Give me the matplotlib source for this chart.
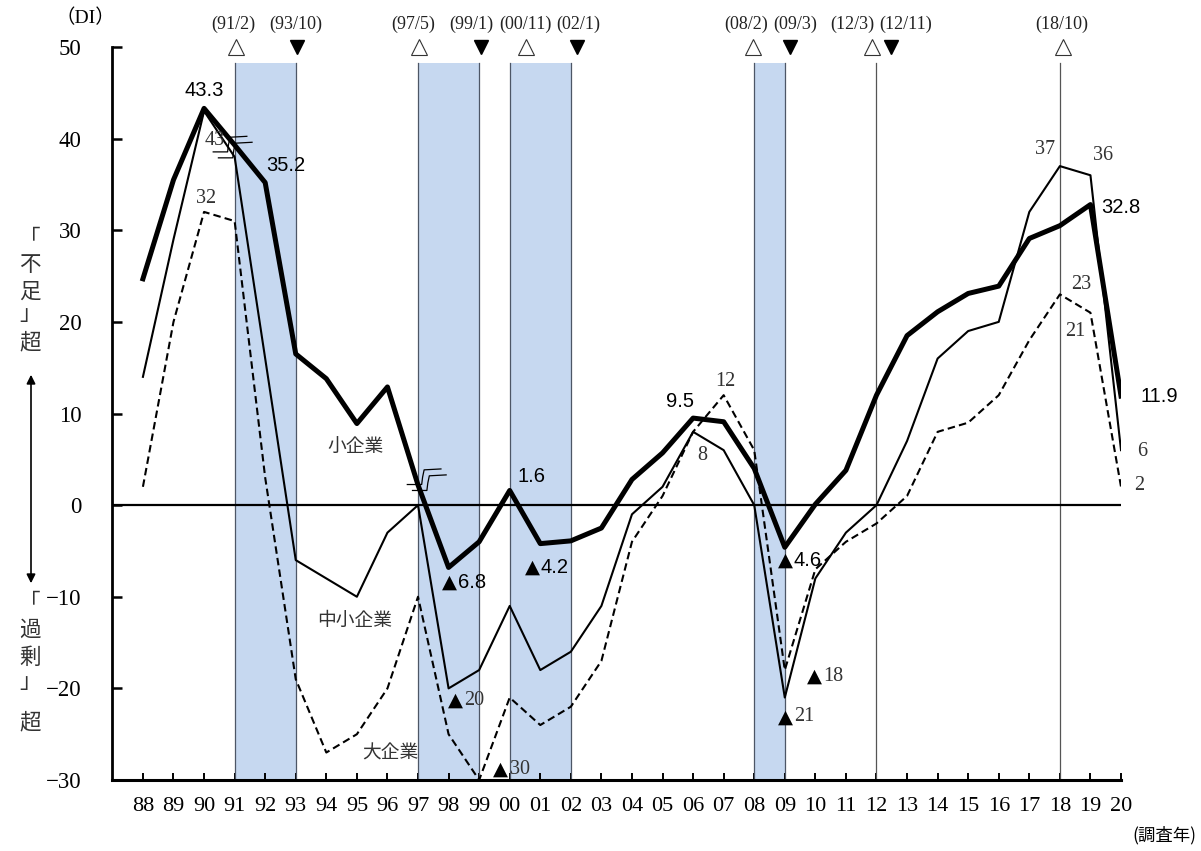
import matplotlib
matplotlib.use('Agg')
import matplotlib.pyplot as plt
import numpy as np

years = ['88', '89', '90', '91', '92', '93', '94', '95', '96', '97', '98', '99', '00',
         '01', '02', '03', '04', '05', '06', '07', '08', '09', '10', '11', '12', '13',
         '14', '15', '16', '17', '18', '19', '20']
small = [24.7, 35.5, 43.3, 39.3, 35.2, 16.5, 13.8, 8.9, 12.9, 2.2, -6.8, -4.0, 1.6,
         -4.2, -3.9, -2.5, 2.8, 5.7, 9.5, 9.1, 4.0, -4.6, 0.1, 3.8, 12.0, 18.5,
         21.1, 23.1, 23.9, 29.1, 30.5, 32.8, 11.9]
sme = [14, 29, 43, 38, 16, -6, -8, -10, -3, 0, -20, -18, -11, -18, -16, -11, -1, 2,
       8, 6, 0, -21, -8, -3, 0, 7, 16, 19, 20, 32, 37, 36, 6]
large = [2, 20, 32, 31, 3, -19, -27, -25, -20, -10, -25, -30, -21, -24, -22, -17, -4,
         1, 8, 12, 6, -18, -7, -4, -2, 1, 8, 9, 12, 18, 23, 21, 2]

# recessions (start year, end year) and single turning-point lines
recessions = [('91', '93'), ('97', '99'), ('00', '02'), ('08', '09')]
single_lines = ['12', '18']

# turning points: label, marker position, label position, peak(△)/trough(▼)
turn_labels = ['(91/2)', '(93/10)', '(97/5)', '(99/1)', '(00/11)', '(02/1)',
               '(08/2)', '(09/3)', '(12/3)', '(12/11)', '(18/10)']
turn_mark_x = [3.03, 5.04, 9.03, 11.06, 12.53, 14.2, 19.96, 21.17, 23.84, 24.46, 30.1]
turn_text_x = [2.95, 5.0, 8.84, 10.75, 12.5, 14.25, 19.75, 21.35, 23.2, 24.95, 30.07]
turn_kind = ['peak', 'trough', 'peak', 'trough', 'peak', 'trough',
             'peak', 'trough', 'peak', 'trough', 'peak']

x = np.arange(len(years))
idx = {y: i for i, y in enumerate(years)}

SERIF = ['Liberation Serif', 'Noto Sans CJK JP', 'DejaVu Sans']
SANS = ['Liberation Sans', 'DejaVu Sans']
JP = ['Noto Sans CJK JP', 'DejaVu Sans']

fig = plt.figure(figsize=(12.01, 8.51), dpi=100)
ax = fig.add_axes([0.0933, 0.0834, 0.8401, 0.8614])
ax.set_xlim(-1.01, 32)
ax.set_ylim(-30, 50)

band_top = 48.2
for a, b in recessions:
    ax.fill_between([idx[a], idx[b]], -30, band_top, color='#c6d8f0', lw=0, zorder=1)
    for p in (a, b):
        ax.plot([idx[p], idx[p]], [-30, band_top], color='#4d5666', lw=0.9, zorder=2)
for p in single_lines:
    ax.plot([idx[p], idx[p]], [-30, band_top], color='#555555', lw=0.9, zorder=2)

ax.plot([-1.01, 32], [0, 0], color='black', lw=1.6, zorder=3)

ax.plot(x, large, color='black', lw=1.5, linestyle=(0, (3.6, 2.0)), zorder=4)
ax.plot(x, sme, color='black', lw=1.5, zorder=4)
ax.plot(x, small, color='black', lw=3.6, zorder=5)

# series break marks on the thick line
def break_mark(xc, yc):
    for dx, dy in [(0, 0), (0.17, -0.65)]:
        x0 = xc - 0.2 + dx
        y0 = yc + 0.35 + dy
        ax.plot([x0 + 0.6, x0 + 0.05, x0, x0 - 0.03, x0 - 0.5],
                [y0 + 0.1, y0, y0 - 0.8, y0 - 1.6, y0 - 1.6],
                color='black', lw=0.9, zorder=6, clip_on=False)

break_mark(3.0, 39.8)
break_mark(9.35, 3.5)

# turning point markers and labels
for lab, mx, tx, k in zip(turn_labels, turn_mark_x, turn_text_x, turn_kind):
    if k == 'peak':
        ax.plot(mx, 50.0, marker='^', ms=11, mfc='white', mec='#333333', mew=0.8,
                clip_on=False, zorder=6)
    else:
        ax.plot(mx, 50.0, marker='v', ms=10, mfc='black', mec='black',
                clip_on=False, zorder=6)
    ax.text(tx, 52.5, lab, ha='center', va='center', fontsize=13, family=SERIF,
            color='#222222', clip_on=False)

# data labels
def sans_label(xp, yp, s, ha='center'):
    ax.text(xp, yp, s, ha=ha, va='center', fontsize=14.5, family=SANS,
            color='black', zorder=7, clip_on=False)

def serif_label(xp, yp, s, ha='center'):
    ax.text(xp, yp, s, ha=ha, va='center', fontsize=14.5, family=SERIF,
            color='#333333', zorder=7, clip_on=False)

def tri_label(xp, yp, s, fam):
    ax.annotate('▲', xy=(xp, yp), xytext=(-1, 0), textcoords='offset points',
                ha='right', va='center', fontsize=14, family=['DejaVu Sans'],
                color='black', zorder=7)
    col = 'black' if fam == SANS else '#333333'
    ax.text(xp, yp, s, ha='left', va='center', fontsize=14.5, family=fam,
            color=col, zorder=7)

sans_label(2.0, 45.3, '43.3')
sans_label(4.68, 37.1, '35.2')
sans_label(12.72, 3.1, '1.6')
sans_label(17.57, 11.3, '9.5')
sans_label(32.0, 32.5, '32.8')
sans_label(33.25, 11.9, '11.9')
tri_label(10.31, -8.4, '6.8', SANS)
tri_label(13.02, -6.8, '4.2', SANS)
tri_label(21.3, -6.0, '4.6', SANS)

serif_label(2.36, 39.8, '43')
serif_label(2.06, 33.5, '32')
serif_label(19.04, 13.5, '12')
serif_label(18.29, 5.4, '8')
serif_label(29.5, 38.8, '37')
serif_label(31.4, 38.2, '36')
serif_label(30.7, 24.1, '23')
serif_label(30.5, 19.0, '21')
serif_label(32.7, 5.9, '6')
serif_label(32.6, 2.1, '2')
tri_label(10.5, -21.3, '20', SERIF)
tri_label(12.0, -28.8, '30', SERIF)
tri_label(22.25, -18.7, '18', SERIF)
tri_label(21.3, -23.1, '21', SERIF)

ax.text(6.94, 6.3, '小企業', ha='center', va='center', fontsize=13.5, family=JP,
        color='#333333', zorder=7)
ax.text(6.94, -12.55, '中小企業', ha='center', va='center', fontsize=13.5, family=JP,
        color='#333333', zorder=7)
ax.text(8.08, -27.0, '大企業', ha='center', va='center', fontsize=13.5, family=JP,
        color='#333333', zorder=7)

# axes styling
for s in ['top', 'right']:
    ax.spines[s].set_visible(False)
ax.spines['left'].set_linewidth(2.0)
ax.spines['bottom'].set_linewidth(2.2)
ax.set_yticks(np.arange(-30, 51, 10))
ax.set_yticklabels([str(v).replace('-', '−') for v in range(-30, 51, 10)],
                   family=SERIF, fontsize=16.5)
ax.set_xticks(x)
ax.set_xticklabels(years, family=SERIF, fontsize=16)
ax.tick_params(axis='y', direction='in', length=7, width=1.8, pad=22)
ax.tick_params(axis='x', direction='in', length=5, width=1.4, pad=12)

fig.text(85 / 1201, 1 - 18 / 851, '（DI）', ha='center', va='center', fontsize=14,
         family=SERIF)
fig.text(1196 / 1201, 1 - 835 / 851, '(調査年)', ha='right', va='center', fontsize=12.5,
         family=JP)

# left side vertical caption
upper = ['「', '不', '足', '」', '超']
upper_y = [238, 265, 292, 314, 342]
lower = ['「', '過', '剰', '」', '超']
lower_y = [602, 630, 658, 682, 722]
for ch, yy in zip(upper + lower, upper_y + lower_y):
    fig.text(30 / 1201, 1 - yy / 851, ch, ha='center', va='center', fontsize=15.5,
             family=JP, color='#333333')
fig.add_artist(matplotlib.patches.FancyArrowPatch(
    (31 / 1201, 1 - 372 / 851), (31 / 1201, 1 - 586 / 851),
    transform=fig.transFigure, arrowstyle='<|-|>', mutation_scale=13,
    color='black', lw=1.2))

fig.savefig('out.png', dpi=100)
